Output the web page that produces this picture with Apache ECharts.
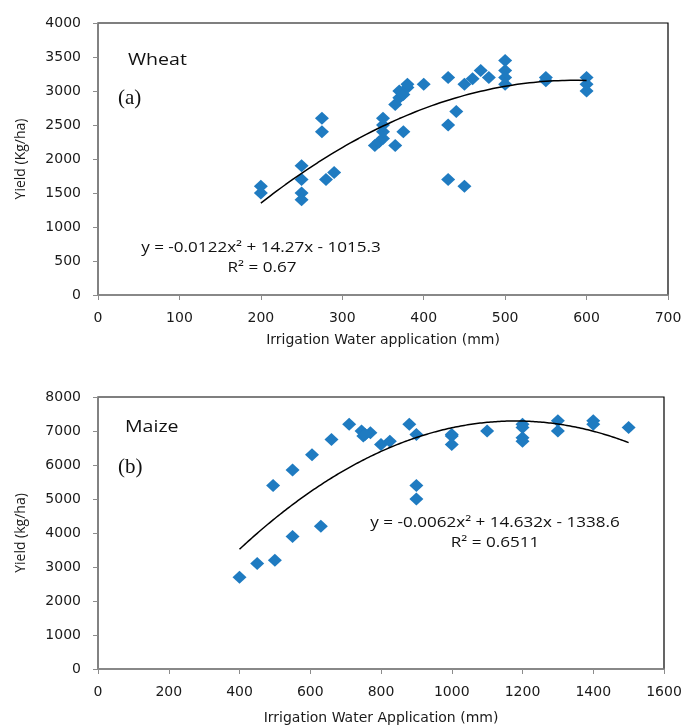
<!DOCTYPE html>
<html><head><meta charset="utf-8">
<script src="https://cdn.jsdelivr.net/npm/echarts@6/dist/echarts.min.js"></script>
<style>html,body{margin:0;padding:0;background:#fff}#c{width:686px;height:726px}</style>
</head><body><div id="c"></div><script>
// Wheat (a)
const wheatWater = [200,200,250,250,250,250,275,275,280,290,340,345,350,350,350,350,365,375,365,370,370,375,380,380,400,430,430,430,440,450,450,460,470,480,500,500,500,500,550,550,600,600,600];
const wheatYield = [1600,1500,1900,1700,1500,1400,2600,2400,1700,1800,2200,2250,2300,2400,2500,2600,2200,2400,2800,2900,3000,2950,3050,3100,3100,3200,2500,1700,2700,1600,3100,3180,3300,3200,3450,3300,3200,3100,3200,3150,3200,3100,3000];
const wheatFit = [-0.0122, 14.27, -1015.3]; // a, b, c
const wheatFitRange = [200, 600];
// Maize (b)
const maizeWater = [400,450,500,495,550,550,605,630,660,710,745,750,770,755,800,825,880,900,900,900,1000,1000,1000,1100,1200,1200,1200,1200,1300,1300,1400,1400,1500];
const maizeYield = [2700,3100,3200,5400,5850,3900,6300,4200,6750,7200,7000,6850,6950,6900,6600,6700,7200,6900,5400,5000,6850,6600,6900,7000,7200,7100,6800,6700,7300,7000,7300,7200,7100];
const maizeFit = [-0.0062, 14.632, -1338.6];
const maizeFitRange = [400, 1500];
// Axis ticks
const wheatXTicks = [0,100,200,300,400,500,600,700];
const wheatYTicks = [0,500,1000,1500,2000,2500,3000,3500,4000];
const maizeXTicks = [0,200,400,600,800,1000,1200,1400,1600];
const maizeYTicks = [0,1000,2000,3000,4000,5000,6000,7000,8000];

function pairs(xs, ys){ return xs.map((x,i)=>[x, ys[i]]); }
function curve(coef, range){
  const out = [];
  for (let x = range[0]; x <= range[1]; x += 10) out.push([x, coef[0]*x*x + coef[1]*x + coef[2]]);
  return out;
}

const TICKFONT = 'DejaVu Sans';
const FONT = 'Open Sans';
const axisGray = '#8c8c8c';
function xAxis(idx, ticks, name, gap){
  return {type:'value', gridIndex:idx, min:ticks[0], max:ticks[ticks.length-1], interval:ticks[1]-ticks[0],
    name:name, nameLocation:'middle', nameGap:gap,
    nameTextStyle:{fontFamily:TICKFONT, fontSize:14, color:'#1a1a1a'},
    axisLine:{show:true, lineStyle:{color:axisGray, width:1.5}},
    axisTick:{show:true, length:5, lineStyle:{color:axisGray}},
    axisLabel:{fontFamily:TICKFONT, fontSize:14, color:'#1a1a1a', margin:16, formatter:v=>String(v)},
    splitLine:{show:false}};
}
function yAxis(idx, ticks, name){
  return {type:'value', gridIndex:idx, min:ticks[0], max:ticks[ticks.length-1], interval:ticks[1]-ticks[0],
    name:name, nameLocation:'middle', nameGap:70, nameRotate:90,
    nameTextStyle:{fontFamily:FONT, fontSize:14, color:'#1a1a1a'},
    axisLine:{show:true, lineStyle:{color:axisGray, width:1.5}},
    axisTick:{show:true, length:5, lineStyle:{color:axisGray}},
    axisLabel:{fontFamily:TICKFONT, fontSize:14, color:'#1a1a1a', margin:17, formatter:v=>String(v)},
    splitLine:{show:false}};
}
const blue = '#1f7bc1';
const chart = echarts.init(document.getElementById('c'), null, {renderer:'canvas'});
function txt(x, y, s, font, sx, align){
  return {type:'text', x:x, y:y, scaleX:sx, style:{text:s, font:font, fill:'#111', align:align||'center', verticalAlign:'middle'}};
}
chart.setOption({
  backgroundColor:'#fff',
  animation:false,
  grid:[
    {left:98, right:18, top:23, height:272, show:true, borderColor:'#000', borderWidth:1.2, backgroundColor:'transparent'},
    {left:98, right:22, top:397, height:272, show:true, borderColor:'#000', borderWidth:1.2, backgroundColor:'transparent'}
  ],
  xAxis:[ xAxis(0, wheatXTicks, 'Irrigation Water application (mm)', 38), xAxis(1, maizeXTicks, 'Irrigation Water Application (mm)', 42) ],
  yAxis:[ yAxis(0, wheatYTicks, 'Yield (Kg/ha)'), yAxis(1, maizeYTicks, 'Yield (kg/ha)') ],
  series:[
    {type:'scatter', xAxisIndex:0, yAxisIndex:0, symbol:'diamond', symbolSize:[14,13], itemStyle:{color:blue, opacity:1}, data:pairs(wheatWater, wheatYield)},
    {type:'line', xAxisIndex:0, yAxisIndex:0, showSymbol:false, smooth:true, lineStyle:{color:'#000', width:1.5}, data:curve(wheatFit, wheatFitRange), z:3},
    {type:'scatter', xAxisIndex:1, yAxisIndex:1, symbol:'diamond', symbolSize:[14,13], itemStyle:{color:blue, opacity:1}, data:pairs(maizeWater, maizeYield)},
    {type:'line', xAxisIndex:1, yAxisIndex:1, showSymbol:false, smooth:true, lineStyle:{color:'#000', width:1.5}, data:curve(maizeFit, maizeFitRange), z:3}
  ],
  graphic:[
    txt(128, 60, 'Wheat', '17px "Open Sans"', 1.15, 'left'),
    txt(118, 98, '(a)', '21px "Liberation Serif"', 1, 'left'),
    txt(261, 248, 'y = -0.0122x² + 14.27x - 1015.3', '14px "Open Sans"', 1.22),
    txt(262, 268, 'R² = 0.67', '14px "Open Sans"', 1.22),
    txt(125, 427, 'Maize', '17px "Open Sans"', 1.15, 'left'),
    txt(118, 467, '(b)', '21px "Liberation Serif"', 1, 'left'),
    txt(495, 523, 'y = -0.0062x² + 14.632x - 1338.6', '14px "Open Sans"', 1.22),
    txt(495, 543, 'R² = 0.6511', '14px "Open Sans"', 1.22)
  ]
});
</script></body></html>
